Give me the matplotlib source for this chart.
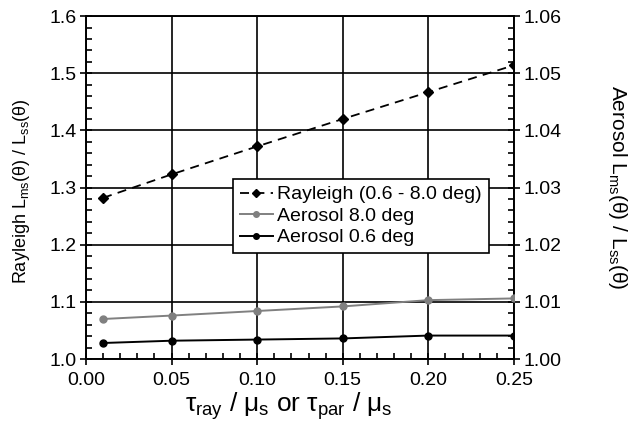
import matplotlib
matplotlib.use("Agg")
import matplotlib.pyplot as plt
from matplotlib.ticker import MultipleLocator

plt.rcParams['font.family'] = ['Liberation Sans', 'DejaVu Sans']
plt.rcParams['mathtext.fontset'] = 'custom'
plt.rcParams['mathtext.rm'] = 'Liberation Sans'
plt.rcParams['mathtext.it'] = 'Liberation Sans'

# 光学的厚さ / 太陽天頂角余弦
x = [0.01, 0.05, 0.10, 0.15, 0.20, 0.25]

# 多重散乱 / 一次散乱 の比
rayleigh = [1.282, 1.323, 1.372, 1.420, 1.467, 1.514]
aerosol_80 = [1.0070, 1.0076, 1.0084, 1.0092, 1.0103, 1.0106]
aerosol_06 = [1.0028, 1.0032, 1.0034, 1.0036, 1.0041, 1.0041]

fig = plt.figure(figsize=(6.44, 4.24), dpi=100)
ax = fig.add_axes([0.1335, 0.1533, 0.6645, 0.8087])
ax2 = ax.twinx()

# 左軸: Rayleigh
ax.set_xlim(0.0, 0.25)
ax.set_ylim(1.0, 1.6)
ax.xaxis.set_major_locator(MultipleLocator(0.05))
ax.xaxis.set_minor_locator(MultipleLocator(0.01))
ax.yaxis.set_major_locator(MultipleLocator(0.1))
ax.yaxis.set_minor_locator(MultipleLocator(0.02))
ax.xaxis.set_major_formatter(lambda v, p: f"{v:.2f}")
ax.yaxis.set_major_formatter(lambda v, p: f"{v:.1f}")
ax.grid(True, which='major', color='black', linewidth=1.2)
ax.set_axisbelow(True)

# 右軸: Aerosol
ax2.set_ylim(1.00, 1.06)
ax2.yaxis.set_major_locator(MultipleLocator(0.01))
ax2.yaxis.set_minor_locator(MultipleLocator(0.002))
ax2.yaxis.set_major_formatter(lambda v, p: f"{v:.2f}")

for a in (ax, ax2):
    a.tick_params(which='major', direction='inout', length=8, width=1.2,
                  labelsize=14, colors='black')
    a.tick_params(which='minor', direction='in', length=4, width=1.2)
    for s in a.spines.values():
        s.set_linewidth(1.2)
ax.tick_params(axis='x', which='major', pad=5)
ax.tick_params(axis='y', which='major', pad=3)
ax2.tick_params(axis='y', which='major', pad=3)
ax.tick_params(axis='y', which='both', right=False)
ax2.tick_params(axis='y', which='both', left=False)

l1, = ax.plot(x, rayleigh, color='black', linestyle=(0, (5, 3.5)), linewidth=1.3,
              marker='D', markersize=5, label='Rayleigh (0.6 - 8.0 deg)', zorder=5)
l2, = ax2.plot(x, aerosol_80, color='#808080', linewidth=1.4,
               marker='o', markersize=5, label='Aerosol 8.0 deg', zorder=5)
l3, = ax2.plot(x, aerosol_06, color='black', linewidth=1.4,
               marker='o', markersize=5, label='Aerosol 0.6 deg', zorder=5)

ax.set_xlabel(r"$\tau_{\mathrm{ray}}$ / $\mu_{\mathrm{s}}$ or $\tau_{\mathrm{par}}$ / $\mu_{\mathrm{s}}$",
              fontsize=19)
ax.xaxis.set_label_coords(0.475, -0.09)
ax.set_ylabel(r"Rayleigh L$_{\mathrm{ms}}$($\theta$) / L$_{\mathrm{ss}}$($\theta$)", fontsize=13)
ax.yaxis.set_label_coords(-0.126, 0.49)
ax2.set_ylabel(r"Aerosol L$_{\mathrm{ms}}$($\theta$) / L$_{\mathrm{ss}}$($\theta$)", fontsize=15,
               rotation=270, va='center')
ax2.yaxis.set_label_coords(1.241, 0.5)

leg = ax2.legend(handles=[l1, l2, l3], loc='upper left',
                 bbox_to_anchor=(0.343, 0.525), fontsize=14, frameon=True,
                 fancybox=False, edgecolor='black', framealpha=1,
                 handlelength=1.7, handletextpad=0.25, borderpad=0.35,
                 labelspacing=0.2, borderaxespad=0, markerscale=0.8)
leg.get_frame().set_linewidth(1.2)

fig.savefig("out.png", dpi=100)
